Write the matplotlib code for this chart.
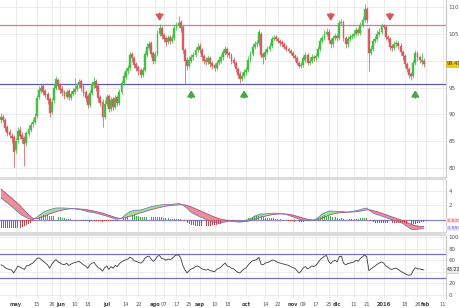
import numpy as np
import pandas as pd
import matplotlib
matplotlib.use("Agg")
import matplotlib.pyplot as plt
from matplotlib.patches import Rectangle
import matplotlib.transforms as mtransforms

# ---------------- data ----------------
opens = [
    89.0, 89.6, 89.0, 87.6, 86.8, 86.0, 85.8, 83.4, 85.2, 87.2,
    86.2, 85.6, 84.8, 86.4, 87.2, 88.2, 88.6, 89.8, 93.2, 94.4,
    95.2, 94.4, 93.8, 92.8, 90.4, 92.6, 95.0, 96.4, 95.4, 94.8,
    94.2, 93.2, 94.4, 93.0, 93.8, 94.2, 94.8, 95.4, 96.2, 95.2,
    94.2, 93.4, 91.8, 94.0, 95.4, 96.2, 95.2, 93.2, 92.4, 89.6,
    92.0, 93.4, 91.0, 92.8, 91.4, 93.2, 92.2, 94.2, 95.8, 97.0,
    98.0, 98.6, 101.2, 100.4, 99.4, 98.8, 98.2, 97.4, 98.2, 101.0,
    102.4, 103.2, 101.4, 100.0, 101.2, 105.0, 106.0, 104.8, 104.2, 103.4,
    104.4, 103.6, 104.2, 106.0, 106.4, 107.2, 106.2, 102.0, 100.2, 99.0,
    100.0, 100.6, 101.0, 102.0, 102.8, 102.0, 100.8, 100.2, 99.8, 100.4,
    99.6, 99.2, 98.6, 99.6, 100.0, 100.6, 101.4, 102.2, 101.4, 101.0,
    100.2, 99.6, 98.4, 97.6, 96.6, 97.2, 97.8, 98.2, 100.2, 101.2,
    102.6, 103.0, 103.2, 105.0, 101.2, 100.6, 101.6, 102.2, 102.8, 104.0,
    104.4, 104.0, 103.6, 103.4, 103.0, 102.6, 102.2, 101.8, 101.4, 100.8,
    100.4, 99.6, 99.0, 99.2, 100.2, 101.0, 99.6, 100.0, 100.6, 100.4,
    100.8, 102.2, 103.6, 104.2, 105.0, 105.4, 103.8, 103.0, 104.2, 104.6,
    104.2, 107.0, 107.2, 104.2, 103.0, 104.0, 104.4, 104.6, 105.0, 105.6,
    105.2, 106.6, 107.6, 109.6, 105.8, 101.4, 102.2, 103.6, 104.0, 105.0,
    105.4, 106.4, 106.2, 104.4, 104.0, 102.6, 102.4, 103.0, 103.2, 102.8,
    101.6, 100.8, 99.4, 98.4, 97.4, 97.2, 99.6, 101.4, 100.6, 99.8,
    100.0,
]
highs = [
    90.2, 90.0, 89.4, 88.0, 87.4, 86.6, 86.2, 85.6, 87.6, 87.8,
    86.8, 86.0, 87.0, 88.0, 88.6, 89.2, 90.2, 93.6, 95.2, 95.8,
    95.6, 94.8, 94.2, 93.2, 93.0, 95.6, 97.2, 96.8, 95.8, 95.2,
    94.6, 94.8, 94.8, 94.4, 95.0, 96.8, 95.9, 96.6, 96.6, 95.6,
    94.6, 93.8, 94.6, 96.2, 97.0, 96.6, 95.6, 93.6, 92.8, 92.6,
    93.8, 93.8, 93.2, 93.2, 93.6, 93.6, 94.8, 96.4, 97.8, 98.6,
    99.2, 101.6, 101.6, 100.8, 99.8, 99.2, 98.6, 98.8, 101.8, 103.2,
    103.6, 103.6, 101.8, 101.8, 105.6, 106.8, 106.4, 105.2, 104.6, 104.8,
    104.8, 104.8, 106.6, 107.2, 108.2, 107.6, 106.6, 102.4, 100.6, 100.8,
    101.2, 101.6, 102.6, 103.2, 103.2, 102.4, 101.2, 100.6, 101.0, 100.8,
    100.0, 99.6, 100.2, 100.8, 101.2, 102.2, 102.8, 102.6, 101.8, 101.4,
    100.6, 100.0, 98.8, 98.0, 97.8, 98.4, 98.8, 100.8, 101.8, 103.2,
    103.6, 103.8, 105.8, 105.4, 101.6, 102.2, 102.8, 103.4, 104.6, 104.8,
    104.8, 104.4, 104.0, 103.8, 103.4, 103.0, 102.6, 102.2, 101.8, 101.2,
    100.8, 100.0, 99.8, 101.0, 101.6, 101.4, 100.6, 101.2, 101.0, 101.4,
    102.8, 104.2, 104.8, 105.6, 106.0, 105.8, 104.2, 104.8, 105.2, 105.0,
    107.6, 107.8, 107.6, 104.6, 104.6, 105.0, 105.2, 105.6, 106.2, 106.0,
    107.2, 108.2, 110.6, 110.0, 106.2, 102.8, 104.2, 104.6, 105.6, 106.0,
    107.0, 106.8, 106.6, 104.8, 104.4, 103.0, 103.6, 103.8, 103.6, 103.2,
    102.0, 101.2, 99.8, 98.8, 97.8, 100.2, 102.0, 101.8, 101.0, 101.4,
    100.4,
]
lows = [
    88.4, 88.6, 87.0, 86.0, 85.6, 84.8, 80.3, 82.8, 84.8, 85.4,
    84.8, 80.4, 84.2, 86.0, 86.8, 87.6, 88.2, 89.4, 92.8, 94.0,
    93.6, 93.0, 92.0, 89.6, 90.0, 92.2, 94.6, 94.8, 94.0, 93.4,
    92.8, 92.8, 92.6, 92.6, 93.4, 93.8, 94.4, 95.0, 94.4, 93.4,
    92.4, 91.2, 91.4, 93.6, 95.0, 94.4, 92.4, 91.6, 87.6, 89.2,
    91.6, 90.4, 90.6, 90.8, 91.0, 91.6, 91.8, 93.8, 95.4, 96.6,
    97.6, 98.2, 99.8, 98.6, 98.0, 97.4, 96.8, 97.0, 97.8, 100.6,
    102.0, 100.6, 99.4, 99.6, 100.8, 104.6, 104.0, 103.4, 102.8, 103.0,
    103.0, 103.2, 103.8, 105.6, 106.0, 105.4, 101.4, 95.6, 98.2, 98.6,
    99.6, 100.2, 100.6, 101.6, 101.4, 100.0, 99.4, 99.2, 99.4, 98.8,
    98.4, 98.0, 98.2, 99.2, 99.6, 100.2, 101.0, 100.6, 100.4, 99.4,
    99.0, 97.8, 96.8, 95.8, 96.2, 96.8, 97.4, 97.8, 99.8, 100.8,
    102.2, 102.6, 102.8, 100.4, 99.4, 100.2, 101.2, 101.8, 102.4, 103.6,
    103.6, 103.2, 102.8, 102.6, 102.2, 101.8, 101.4, 101.0, 100.4, 100.0,
    99.2, 98.6, 98.6, 98.8, 99.8, 99.2, 99.2, 99.6, 100.0, 100.0,
    100.4, 101.8, 103.2, 103.8, 104.6, 103.2, 102.4, 102.6, 103.8, 103.6,
    103.8, 106.6, 103.6, 102.4, 102.6, 103.6, 104.0, 104.2, 104.6, 104.8,
    104.8, 106.2, 107.2, 107.0, 98.0, 101.0, 101.8, 103.2, 103.6, 104.6,
    105.0, 105.8, 103.8, 103.4, 102.0, 101.8, 102.0, 102.6, 102.2, 101.0,
    100.2, 98.8, 97.8, 96.8, 96.4, 96.8, 99.2, 100.0, 99.6, 99.2,
    98.8,
]
closes = [
    89.5, 89.0, 87.5, 86.5, 86.2, 85.6, 83.0, 85.0, 87.0, 86.0,
    85.5, 84.5, 86.5, 87.4, 88.0, 88.6, 89.6, 93.0, 94.5, 95.0,
    94.2, 93.6, 92.6, 90.2, 92.4, 95.0, 96.6, 95.2, 94.6, 94.0,
    93.4, 94.2, 93.2, 93.8, 94.4, 94.8, 95.3, 96.0, 95.0, 94.0,
    93.0, 91.8, 94.0, 95.6, 96.0, 95.0, 93.0, 92.2, 89.5, 92.0,
    93.2, 91.0, 92.6, 91.4, 93.0, 92.2, 94.2, 95.8, 97.2, 98.0,
    98.6, 101.0, 100.4, 99.2, 98.6, 98.0, 97.4, 98.2, 101.2, 102.6,
    103.0, 101.2, 100.0, 101.2, 105.0, 106.0, 104.6, 104.0, 103.4, 104.2,
    103.6, 104.2, 106.0, 106.6, 107.0, 106.0, 102.0, 100.0, 99.0, 100.2,
    100.6, 101.0, 102.0, 102.6, 102.0, 100.6, 100.0, 99.8, 100.4, 99.4,
    99.0, 98.6, 99.6, 100.2, 100.6, 101.6, 102.2, 101.2, 101.0, 100.0,
    99.6, 98.4, 97.4, 96.6, 97.2, 97.8, 98.2, 100.2, 101.2, 102.6,
    103.0, 103.2, 105.3, 101.0, 100.6, 101.6, 102.2, 102.8, 104.0, 104.2,
    104.0, 103.6, 103.2, 103.0, 102.6, 102.2, 101.8, 101.4, 100.8, 100.4,
    99.6, 99.0, 99.2, 100.4, 101.0, 99.6, 100.0, 100.6, 100.4, 100.8,
    102.2, 103.6, 104.2, 105.0, 105.4, 103.8, 103.0, 104.2, 104.6, 104.2,
    107.0, 107.2, 104.2, 103.0, 104.0, 104.4, 104.6, 105.0, 105.6, 105.2,
    106.6, 107.6, 109.6, 107.6, 101.4, 102.2, 103.6, 104.0, 105.0, 105.4,
    106.4, 106.2, 104.4, 104.0, 102.6, 102.4, 103.0, 103.2, 102.8, 101.6,
    100.8, 99.4, 98.4, 97.4, 97.2, 99.6, 101.4, 100.6, 100.2, 100.0,
    99.41,
]
macd_line = [
    3.0, 2.75, 2.5, 2.3, 2.05, 1.8, 1.55, 1.3, 1.05, 0.8,
    0.6, 0.45, 0.3, 0.15, 0.05, 0.0, 0.15, 0.35, 0.6, 0.8,
    1.0, 1.15, 1.3, 1.35, 1.45, 1.55, 1.6, 1.62, 1.6, 1.62,
    1.6, 1.58, 1.56, 1.55, 1.52, 1.5, 1.45, 1.4, 1.35, 1.28,
    1.2, 1.12, 1.05, 1.0, 0.95, 0.9, 0.82, 0.74, 0.65, 0.58,
    0.5, 0.4, 0.3, 0.2, 0.1, 0.08, 0.12, 0.2, 0.45, 0.7,
    0.9, 1.1, 1.2, 1.25, 1.3, 1.3, 1.35, 1.4, 1.5, 1.6,
    1.7, 1.78, 1.84, 1.9, 1.95, 2.0, 2.05, 2.05, 2.08, 2.1,
    2.1, 2.12, 2.15, 2.18, 2.2, 2.15, 2.0, 1.8, 1.55, 1.3,
    1.0, 0.85, 0.7, 0.55, 0.4, 0.3, 0.18, 0.05, -0.08, -0.2,
    -0.3, -0.38, -0.45, -0.5, -0.45, -0.38, -0.3, -0.25, -0.2, -0.22,
    -0.25, -0.28, -0.3, -0.32, -0.3, -0.25, -0.2, 0.0, 0.15, 0.3,
    0.5, 0.6, 0.7, 0.8, 0.78, 0.8, 0.82, 0.85, 0.88, 0.9,
    0.9, 0.88, 0.85, 0.8, 0.75, 0.7, 0.6, 0.5, 0.4, 0.3,
    0.2, 0.1, 0.0, -0.05, -0.1, -0.12, -0.12, -0.1, -0.1, 0.1,
    0.3, 0.55, 0.8, 0.95, 1.05, 1.15, 1.2, 1.18, 1.15, 1.12,
    1.1, 1.15, 1.1, 1.05, 1.05, 1.1, 1.12, 1.18, 1.25, 1.3,
    1.4, 1.48, 1.55, 1.6, 1.35, 1.1, 0.9, 0.8, 0.7, 0.6,
    0.5, 0.4, 0.3, 0.2, 0.1, 0.0, -0.1, -0.2, -0.3, -0.4,
    -0.5, -0.7, -0.9, -1.1, -1.3, -1.35, -1.35, -1.3, -1.28, -1.25,
    -1.22,
]
signal_line = [
    4.2, 3.95, 3.7, 3.45, 3.2, 3.0, 2.7, 2.45, 2.2, 1.9,
    1.6, 1.3, 1.0, 0.7, 0.45, 0.2, 0.15, 0.15, 0.2, 0.3,
    0.42, 0.55, 0.7, 0.8, 0.9, 1.0, 1.1, 1.18, 1.25, 1.32,
    1.4, 1.44, 1.47, 1.5, 1.5, 1.5, 1.5, 1.48, 1.46, 1.43,
    1.4, 1.35, 1.3, 1.24, 1.18, 1.1, 1.05, 0.98, 0.9, 0.8,
    0.72, 0.62, 0.52, 0.42, 0.32, 0.25, 0.2, 0.2, 0.24, 0.3,
    0.38, 0.46, 0.55, 0.65, 0.75, 0.85, 0.95, 1.03, 1.12, 1.2,
    1.3, 1.38, 1.45, 1.53, 1.6, 1.68, 1.74, 1.8, 1.86, 1.9,
    1.94, 1.98, 2.0, 2.03, 2.05, 2.06, 2.05, 2.02, 1.95, 1.85,
    1.75, 1.62, 1.5, 1.38, 1.25, 1.12, 0.98, 0.85, 0.72, 0.6,
    0.48, 0.36, 0.25, 0.15, 0.08, 0.02, -0.04, -0.08, -0.12, -0.15,
    -0.18, -0.2, -0.22, -0.24, -0.25, -0.25, -0.24, -0.2, -0.12, -0.04,
    0.05, 0.15, 0.25, 0.35, 0.42, 0.5, 0.56, 0.62, 0.68, 0.72,
    0.75, 0.78, 0.8, 0.8, 0.8, 0.78, 0.75, 0.7, 0.64, 0.56,
    0.48, 0.4, 0.3, 0.22, 0.14, 0.07, 0.02, -0.02, -0.04, -0.02,
    0.04, 0.12, 0.24, 0.36, 0.48, 0.6, 0.7, 0.78, 0.84, 0.9,
    0.94, 0.98, 1.0, 1.02, 1.03, 1.04, 1.06, 1.08, 1.1, 1.14,
    1.18, 1.24, 1.3, 1.36, 1.36, 1.32, 1.25, 1.18, 1.1, 1.0,
    0.9, 0.8, 0.7, 0.6, 0.48, 0.38, 0.28, 0.18, 0.08, -0.02,
    -0.12, -0.24, -0.36, -0.5, -0.62, -0.72, -0.8, -0.86, -0.9, -0.92,
    -0.93,
]
rsi = [
    52, 50, 47, 45, 44, 43, 38, 44, 50, 48,
    46, 44, 50, 51, 53, 55, 59, 63, 64, 61,
    58, 55, 52, 46, 53, 58, 61, 57, 55, 53,
    52, 55, 51, 53, 55, 56, 57, 58, 55, 52,
    50, 46, 52, 55, 56, 51, 47, 45, 41, 47,
    50, 44, 49, 46, 51, 49, 54, 57, 59, 61,
    62, 65, 63, 59, 58, 56, 55, 57, 63, 66,
    67, 62, 58, 61, 67, 68, 63, 62, 60, 62,
    61, 63, 67, 69, 69, 64, 51, 43, 38, 42,
    45, 46, 49, 50, 48, 45, 44, 43, 44, 42,
    41, 40, 44, 46, 48, 52, 55, 50, 49, 46,
    45, 42, 39, 38, 42, 45, 47, 52, 56, 59,
    60, 61, 65, 53, 52, 55, 56, 57, 60, 60,
    58, 56, 55, 54, 53, 52, 51, 49, 47, 46,
    42, 38, 41, 47, 49, 45, 47, 50, 49, 51,
    56, 61, 64, 67, 68, 58, 54, 58, 60, 57,
    66, 67, 55, 52, 54, 55, 56, 57, 60, 58,
    63, 66, 69, 66, 42, 45, 48, 50, 53, 55,
    57, 55, 50, 48, 45, 44, 46, 46, 44, 41,
    39, 37, 35, 34, 35, 42, 47, 45, 45, 44,
    43.22,
]
resistance = 106.6
support = 95.6
rsi_upper = 70
rsi_lower = 30
sell_signals = [75, 156, 184]
buy_signals = [90, 115, 196]

tick_dates = ["2015-05-01", "2015-05-15", "2015-05-26", "2015-06-01", "2015-06-10",
              "2015-06-18", "2015-07-01", "2015-07-14", "2015-07-22", "2015-08-03",
              "2015-08-07", "2015-08-17", "2015-08-25", "2015-09-01", "2015-09-10",
              "2015-09-18", "2015-10-01", "2015-10-14", "2015-10-22", "2015-11-02",
              "2015-11-09", "2015-11-17", "2015-11-25", "2015-12-01", "2015-12-11",
              "2015-12-21", "2016-01-04", "2016-01-18", "2016-01-26", "2016-02-01",
              "2016-02-11"]
tick_texts = ["may", "15", "26", "jun", "10", "18", "jul", "14", "22", "ago",
              "07", "17", "25", "sep", "10", "18", "oct", "14", "22", "nov",
              "09", "17", "25", "dic", "11", "21", "2016", "18", "26", "feb", "11"]
month_texts = ["may", "jun", "jul", "ago", "sep", "oct", "nov", "dic", "2016", "feb"]
price_ticks = [80, 85, 90, 95, 100, 105, 110]
macd_ticks = [0, 2, 4]
rsi_ticks = [0, 20, 40, 60, 80, 100]
last_price_text = "99.41"
macd_label_texts = ["-0.835", "-1.593"]
rsi_label_text = "43.22"

# ---------------- calendar ----------------
days = pd.bdate_range("2015-04-22", "2016-02-12")
days = days.drop(pd.to_datetime(["2015-12-25", "2016-01-01"]))
tick_pos = [days.get_loc(pd.Timestamp(d)) for d in tick_dates]

n = min(len(opens), len(highs), len(lows), len(closes))
x = np.arange(n)
o = np.array(opens[:n]); h = np.array(highs[:n])
l = np.array(lows[:n]); c = np.array(closes[:n])
nm = min(len(macd_line), len(signal_line))
xm = np.arange(nm)
m = np.array(macd_line[:nm]); s = np.array(signal_line[:nm])
hist = m - s
r = np.array(rsi, dtype=float)
xr = np.arange(len(r))

GREEN = "#42c042"
RED = "#d45f62"
GRID = "#e9e9e9"
LABEL = "#555555"
FS = 4.0

W, H = 460, 308
fig = plt.figure(figsize=(W / 100, H / 100), dpi=100)
fig.patch.set_facecolor("white")

def frac(top, bottom):
    return [0, 1 - bottom / H, 446 / W, (bottom - top) / H]

ax1 = fig.add_axes(frac(0, 177))
ax2 = fig.add_axes(frac(180, 232))
ax3 = fig.add_axes(frac(236, 298))

xlim = (-0.5, 210.5)
for ax in (ax1, ax2, ax3):
    ax.set_xlim(*xlim)
    ax.set_facecolor("white")
    for sp in ("top", "left", "bottom"):
        ax.spines[sp].set_visible(False)
    ax.spines["right"].set_color("#c8c8c8")
    ax.spines["right"].set_linewidth(0.8)
    ax.yaxis.tick_right()
    ax.tick_params(axis="y", length=0, pad=2.0, labelsize=FS, labelcolor=LABEL)
    ax.tick_params(axis="x", length=0)
    ax.set_xticks(tick_pos)
    ax.grid(True, color=GRID, lw=0.6)
    ax.set_axisbelow(True)

ax1.set_xticklabels([])
ax2.set_xticklabels([])

# ---- price panel ----
ax1.set_ylim(78.4, 111.25)
ax1.set_yticks(price_ticks)
ax1.set_yticklabels([str(t) for t in price_ticks])
up = c >= o
cols = np.where(up, GREEN, RED)
ax1.vlines(x, l, h, colors=cols, lw=0.55, zorder=2)
body = np.maximum(np.abs(c - o), 0.25)
ax1.bar(x, body, bottom=np.minimum(o, c), width=0.9, color=cols,
        edgecolor=cols, lw=0.3, zorder=3)
ax1.axhline(resistance, color="#e07a7a", lw=0.9, zorder=1.5)
ax1.axhline(support, color="#5b5bb0", lw=0.9, zorder=1.5)
for i in sell_signals:
    ax1.annotate("", xy=(i, 107.35), xytext=(i, 108.75),
                 arrowprops=dict(arrowstyle="-|>,head_length=0.35,head_width=0.22",
                                 color="#d45a5a", lw=1.3, shrinkA=0, shrinkB=0))
for i in buy_signals:
    ax1.annotate("", xy=(i, 94.5), xytext=(i, 93.1),
                 arrowprops=dict(arrowstyle="-|>,head_length=0.35,head_width=0.22",
                                 color="#45a845", lw=1.3, shrinkA=0, shrinkB=0))
tr1 = mtransforms.blended_transform_factory(ax1.transAxes, ax1.transData)
ax1.text(1.002, c[-1], last_price_text, transform=tr1, fontsize=FS - 0.4, color="#333333",
         va="center", ha="left", zorder=10, clip_on=False,
         bbox=dict(boxstyle="square,pad=0.12", fc="#f2cc0c", ec="#d4b000", lw=0.4))

# ---- MACD panel ----
ax2.set_ylim(-1.68, 5.44)
ax2.set_yticks(macd_ticks)
ax2.set_yticklabels(["", "2", "4"])
ax2.axhline(0, color="#8a84c8", lw=0.9, zorder=1.5)
ax2.fill_between(xm, m, s, where=m >= s, interpolate=True, color="#8fdc8f",
                 alpha=0.85, lw=0, zorder=2)
ax2.fill_between(xm, m, s, where=m < s, interpolate=True, color="#e77a86",
                 alpha=0.85, lw=0, zorder=2)
hcols = np.where(hist >= 0, "#3cae3c", "#c8454a")
ax2.bar(xm, hist, width=0.45, color=hcols, lw=0, zorder=3)
ax2.plot(xm, s, color="#b04e7a", lw=0.6, zorder=4)
ax2.plot(xm, m, color="#6f7fb8", lw=0.6, zorder=4)
tr2 = mtransforms.blended_transform_factory(ax2.transAxes, ax2.transData)
ax2.text(1.002, -0.15, macd_label_texts[0], transform=tr2, fontsize=FS - 0.8,
         color="#d06060", va="center", ha="left", clip_on=False,
         bbox=dict(boxstyle="square,pad=0.1", fc="#f7dada", ec="none"))
ax2.text(1.002, -1.2, macd_label_texts[1], transform=tr2, fontsize=FS - 0.8,
         color="#5a5ac0", va="center", ha="left", clip_on=False,
         bbox=dict(boxstyle="square,pad=0.1", fc="#e2e2f6", ec="none"))

# ---- RSI panel ----
ax3.set_ylim(-5.2, 101.7)
ax3.set_yticks(rsi_ticks)
ax3.set_yticklabels(["0", "20", "", "60", "80", "100"])
ax3.axhline(rsi_upper, color="#7a70c4", lw=0.9, zorder=1.5)
ax3.axhline(rsi_lower, color="#7a70c4", lw=0.9, zorder=1.5)
ax3.plot(xr, r, color="#3c3c3c", lw=0.6, zorder=3)
tr3 = mtransforms.blended_transform_factory(ax3.transAxes, ax3.transData)
ax3.text(1.002, r[-1], rsi_label_text, transform=tr3, fontsize=FS - 0.6,
         color="#333333", va="center", ha="left", zorder=10, clip_on=False,
         bbox=dict(boxstyle="square,pad=0.1", fc="#ececec", ec="#bdbdbd", lw=0.4))
ax3.set_xticklabels(tick_texts)
ax3.tick_params(axis="x", labelsize=FS - 0.3, labelcolor=LABEL, pad=3)
for lbl, t in zip(ax3.get_xticklabels(), tick_texts):
    if t in month_texts:
        lbl.set_fontweight("bold")
        lbl.set_color("#444444")

# hide the 100 price label that sits under the last-price box
for lbl, t in zip(ax1.get_yticklabels(), price_ticks):
    if t == 100:
        lbl.set_visible(False)

# panel separators
for top, bot in [(177, 180), (232, 236)]:
    fig.patches.append(Rectangle((0, 1 - bot / H), 446 / W, (bot - top) / H,
                                 transform=fig.transFigure, facecolor="#dcdcdc",
                                 edgecolor="none", zorder=5))

fig.savefig("out.png", dpi=100, facecolor="white")
